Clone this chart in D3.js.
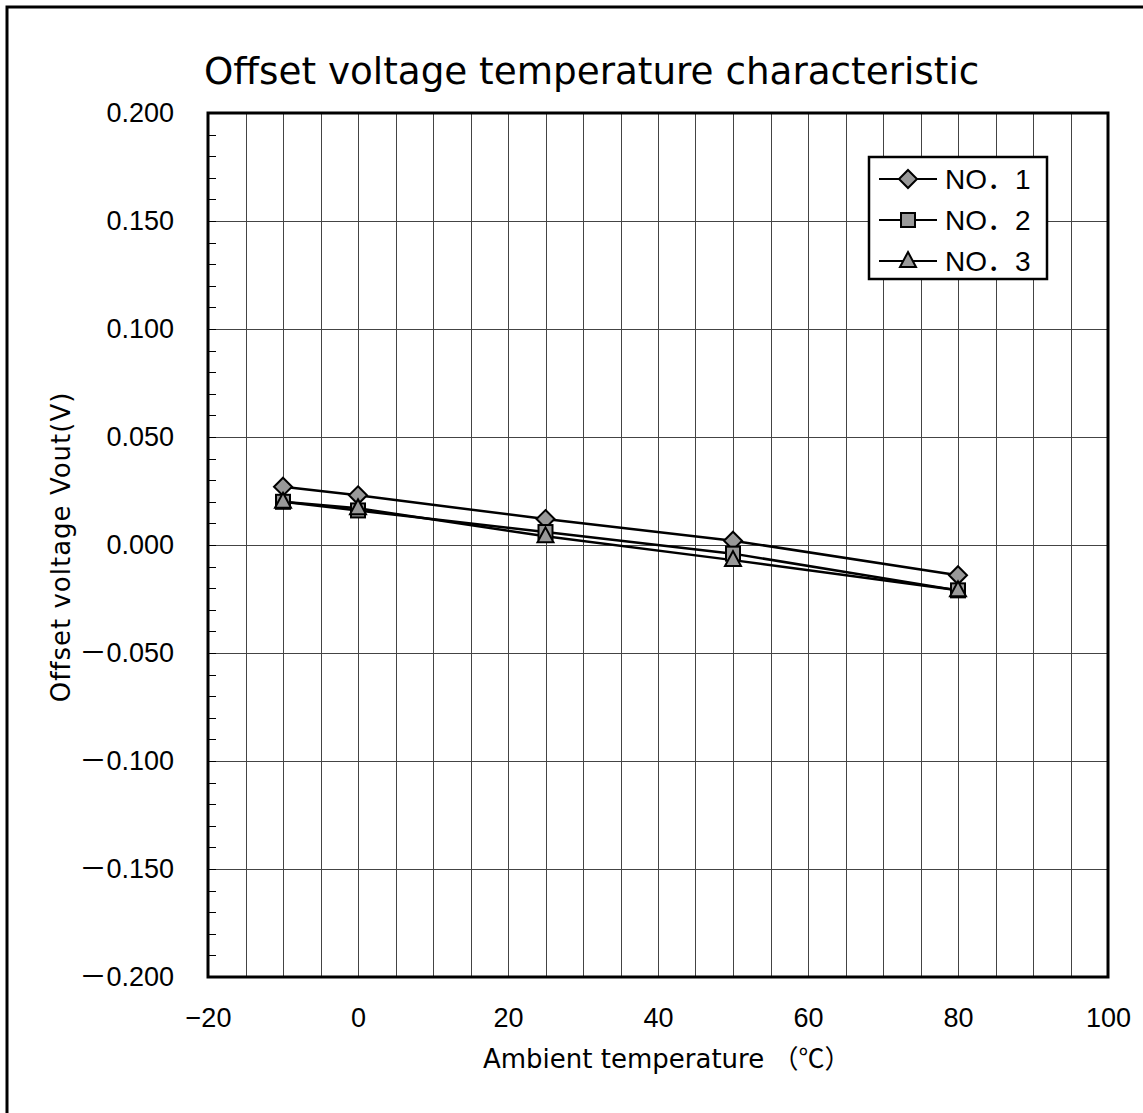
<!DOCTYPE html>
<html>
<head>
<meta charset="utf-8">
<script src="https://cdn.jsdelivr.net/npm/d3@7"></script>
<style>
  body { margin: 0; background: #fff; }
  svg { display: block; font-family: "DejaVu Sans", "Noto Sans CJK JP", sans-serif; }
</style>
</head>
<body>
<div id="chart"></div>
<script>
// temperatures (°C) and offset voltage readings (V)
const temps = [-10, 0, 25, 50, 80];
const no1 = [0.027, 0.023, 0.012, 0.002, -0.014];
const no2 = [0.020, 0.016, 0.006, -0.004, -0.021];
const no3 = [0.020, 0.017, 0.004, -0.007, -0.021];
const seriesNames = ["NO．1", "NO．2", "NO．3"];
const markers = ["diamond", "square", "triangle"];
const xTicks = [-20, 0, 20, 40, 60, 80, 100];
const yTicks = [0.2, 0.15, 0.1, 0.05, 0, -0.05, -0.1, -0.15, -0.2];

const W = 1143, H = 1113;
const margin = ({ top: 113, right: 35, bottom: 136, left: 208 });
const width = W - margin.left - margin.right,
    height = H - margin.top - margin.bottom;

const root = d3.select("#chart").append("svg")
    .attr("width", W)
    .attr("height", H);

// outer frame (runs off the right and bottom edge)
root.append("rect")
    .attr("x", 7).attr("y", 7)
    .attr("width", W + 20).attr("height", H + 20)
    .attr("fill", "none")
    .attr("stroke", "black")
    .attr("stroke-width", 3);

root.append("text")
    .attr("x", 204).attr("y", 84)
    .attr("font-size", 37.3)
    .text("Offset voltage temperature characteristic");

const svg = root.append("g")
    .attr("transform", "translate(" + margin.left + "," + margin.top + ")");

const x = d3.scaleLinear().domain([-20, 100]).range([0, width]);
const y = d3.scaleLinear().domain([-0.2, 0.2]).range([height, 0]);

// grid
svg.append("g")
    .selectAll("line")
    .data(d3.range(-15, 100, 5))
    .join("line")
    .attr("x1", d => Math.round(x(d)) + 0.5).attr("x2", d => Math.round(x(d)) + 0.5)
    .attr("y1", 0).attr("y2", height)
    .attr("stroke", "#444").attr("stroke-width", 1);

svg.append("g")
    .selectAll("line")
    .data(yTicks.slice(1, -1))
    .join("line")
    .attr("x1", 0).attr("x2", width)
    .attr("y1", d => Math.round(y(d)) + 0.5).attr("y2", d => Math.round(y(d)) + 0.5)
    .attr("stroke", "#444").attr("stroke-width", 1);

// minor ticks on the left axis
svg.append("g")
    .selectAll("line")
    .data(d3.range(-19, 20).map(d => d / 100))
    .join("line")
    .attr("x1", 0).attr("x2", 8)
    .attr("y1", d => Math.round(y(d)) + 0.5).attr("y2", d => Math.round(y(d)) + 0.5)
    .attr("stroke", "black").attr("stroke-width", 1);

const xAxis = d3.axisBottom(x).tickValues(xTicks).tickSize(0).tickPadding(31);
const yAxis = d3.axisLeft(y).tickValues(yTicks).tickSize(0).tickPadding(34)
    .tickFormat(d3.format(".3f"));

svg.append("g")
    .attr("transform", `translate(0, ${height})`)
    .call(xAxis)
    .call(g => g.select(".domain").remove())
    .selectAll("text")
    .attr("font-size", 27)
    .attr("fill", "black")
    .attr("font-family", "Liberation Sans");

// y labels: the minus sign is drawn full width, as in the original
svg.append("g")
    .call(yAxis)
    .call(g => g.select(".domain").remove())
    .selectAll("text")
    .attr("font-size", 27)
    .attr("fill", "black")
    .attr("font-family", "Liberation Sans")
    .each(function (d) {
        const t = d3.select(this);
        const s = d3.format(".3f")(Math.abs(d));
        t.text(null);
        if (d < 0) {
            t.append("tspan").attr("font-family", "Noto Sans CJK JP").text("－");
        }
        t.append("tspan").text(s);
    });

// plot frame
svg.append("rect")
    .attr("width", width).attr("height", height)
    .attr("fill", "none")
    .attr("stroke", "black")
    .attr("stroke-width", 3);

// axis titles
const xt = root.append("text")
    .attr("x", 483).attr("y", 1068)
    .attr("font-size", 26)
    .text("Ambient temperature ");
xt.append("tspan")
    .attr("font-family", "Noto Sans CJK JP")
    .text("（℃）");

root.append("text")
    .attr("transform", "translate(70, 547) rotate(-90)")
    .attr("text-anchor", "middle")
    .attr("font-size", 26)
    .attr("letter-spacing", 1)
    .text("Offset voltage Vout(V)");

// series
const series = [no1, no2, no3].map((vals, i) => ({
    name: seriesNames[i],
    marker: markers[i],
    values: temps.map((t, j) => ({ t: t, v: vals[j] }))
}));

const line = d3.line()
    .x(d => x(d.t))
    .y(d => y(d.v));

svg.append("g")
    .selectAll("path")
    .data(series)
    .join("path")
    .attr("d", d => line(d.values))
    .attr("fill", "none")
    .attr("stroke", "black")
    .attr("stroke-width", 2.5);

function drawMarker(sel, kind) {
    if (kind === "diamond") {
        sel.append("path").attr("d", "M0,-9L9,0L0,9L-9,0Z");
    } else if (kind === "square") {
        sel.append("rect").attr("x", -7).attr("y", -7).attr("width", 14).attr("height", 14);
    } else {
        sel.append("path").attr("d", "M0,-9L8,6L-8,6Z");
    }
    sel.selectAll("*")
        .attr("fill", "#999")
        .attr("stroke", "black")
        .attr("stroke-width", 2);
}

series.forEach(s => {
    svg.append("g")
        .selectAll("g")
        .data(s.values)
        .join("g")
        .attr("transform", d => `translate(${x(d.t)},${y(d.v)})`)
        .each(function () { drawMarker(d3.select(this), s.marker); });
});

// legend
const legend = root.append("g").attr("transform", "translate(869, 157)");
legend.append("rect")
    .attr("width", 178).attr("height", 122)
    .attr("fill", "white")
    .attr("stroke", "black")
    .attr("stroke-width", 2.5);

const item = legend.selectAll("g.item")
    .data(series)
    .join("g")
    .attr("class", "item")
    .attr("transform", (d, i) => `translate(0, ${22 + i * 41})`);

item.append("line")
    .attr("x1", 10).attr("x2", 68)
    .attr("stroke", "black").attr("stroke-width", 2);

item.append("g")
    .attr("transform", "translate(39, 0)")
    .each(function (d) { drawMarker(d3.select(this), d.marker); });

item.append("text")
    .attr("x", 76).attr("y", 10)
    .attr("font-size", 28)
    .attr("font-family", "Liberation Sans, Noto Sans CJK JP")
    .text(d => d.name);
</script>
</body>
</html>
